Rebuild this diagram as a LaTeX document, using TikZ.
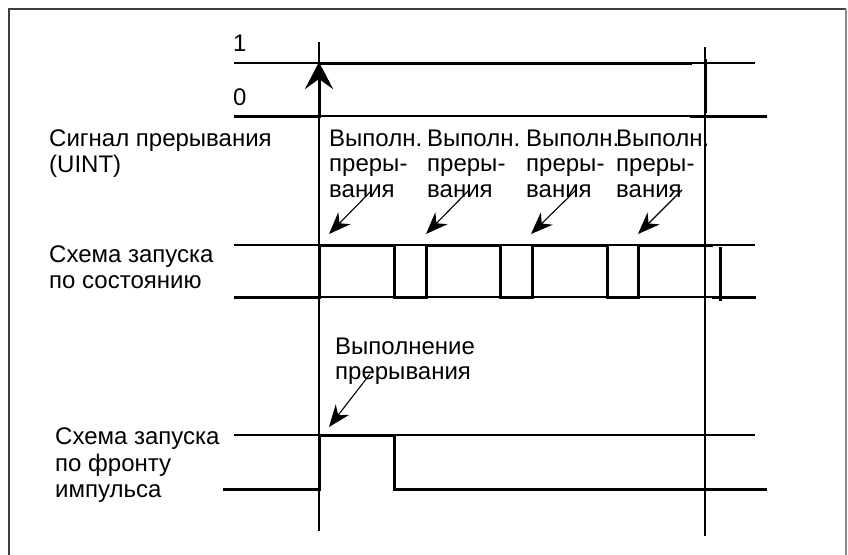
\documentclass[tikz,border=0pt]{standalone}
\usepackage{fontspec}
\setmainfont{Liberation Sans}
\usetikzlibrary{arrows.meta}
\begin{document}
\begin{tikzpicture}[x=1pt,y=-1pt,
  thinln/.style={line width=1.2pt,black},
  thickln/.style={line width=3pt,black,line join=miter},
  lbl/.style={anchor=base west,inner sep=0pt,font=\fontsize{24}{27}\selectfont},
  callout/.style={line width=1.1pt,-{Stealth[length=22pt,width=17pt,inset=7pt]}},
  framel/.style={line width=1.6pt,black!75}]
\useasboundingbox (0,0) rectangle (848,554);
\clip (0,0) rectangle (848,554);
% frame
\draw[framel] (9,600) -- (9,9) -- (846,9);
\draw[line width=1.6pt,black!45] (846,9) -- (846,600);
% vertical time lines
\draw[thinln] (319,42) -- (319,531);
\draw[thinln] (705,47) -- (705,536);
% UINT signal
\draw[thinln] (234,63) -- (755,63);
\draw[thinln] (234,116) -- (767,116);
\draw[thickln] (234,116) -- (319,116);
\coordinate (riseB) at (319,117.5);
\coordinate (riseT) at (319,62);
\draw[line width=3pt,-{Stealth[length=27pt,width=28pt,inset=10pt]}] (riseB) -- (riseT);
\draw[thickln] (318,63) -- (692,63);
\draw[thickln] (705,59) -- (705,113);
\draw[thickln] (690,116) -- (767,116);
% state triggered
\draw[thinln] (234,245) -- (755,245);
\draw[thinln] (234,297) -- (755,297);
\draw[thickln] (234,297) -- (319,297) -- (319,245) -- (394,245) -- (394,297) -- (426,297) -- (426,245) -- (500,245) -- (500,297) -- (532,297) -- (532,245) -- (607,245) -- (607,297) -- (638,297) -- (638,245) -- (713,245);
\draw[thickln] (720,247) -- (720,301);
\draw[thickln] (712,297) -- (756,297);
% edge triggered
\draw[thinln] (234,435) -- (755,435);
\draw[thickln] (223,489) -- (319,489) -- (319,435) -- (394,435) -- (394,489) -- (767,489);
% labels
\node[lbl] (one) at (233,51) {1};
\node[lbl] (zero) at (233,105) {0};
\node[lbl] (s1a) at (49,146) {Сигнал прерывания};
\node[lbl] (s1b) at (49,172) {(UINT)};
\node[lbl] (s2a) at (49,262) {Схема запуска};
\node[lbl] (s2b) at (49,288) {по состоянию};
\node[lbl] (s3a) at (55,444) {Схема запуска};
\node[lbl] (s3b) at (55,471) {по фронту};
\node[lbl] (s3c) at (55,497) {импульса};
\foreach \i/\x in {1/329,2/427,3/526,4/616}{
  \node[lbl] (ta\i) at (\x,146) {Выполн.};
  \node[lbl] (tb\i) at (\x,171) {преры-};
  \node[lbl] (tc\i) at (\x,197) {вания};
}
\node[lbl] (ea) at (335,354) {Выполнение};
\node[lbl] (eb) at (335,379) {прерывания};
% callout arrows
\coordinate (t1) at (372,190); \coordinate (h1) at (329,234);
\coordinate (t2) at (469,190); \coordinate (h2) at (426,234);
\coordinate (t3) at (576,190); \coordinate (h3) at (531,234);
\coordinate (t4) at (682,190); \coordinate (h4) at (638,234);
\coordinate (t5) at (370,374); \coordinate (h5) at (329,427);
\foreach \i in {1,...,5}{\draw[callout] (t\i) -- (h\i);}
\end{tikzpicture}
\end{document}
